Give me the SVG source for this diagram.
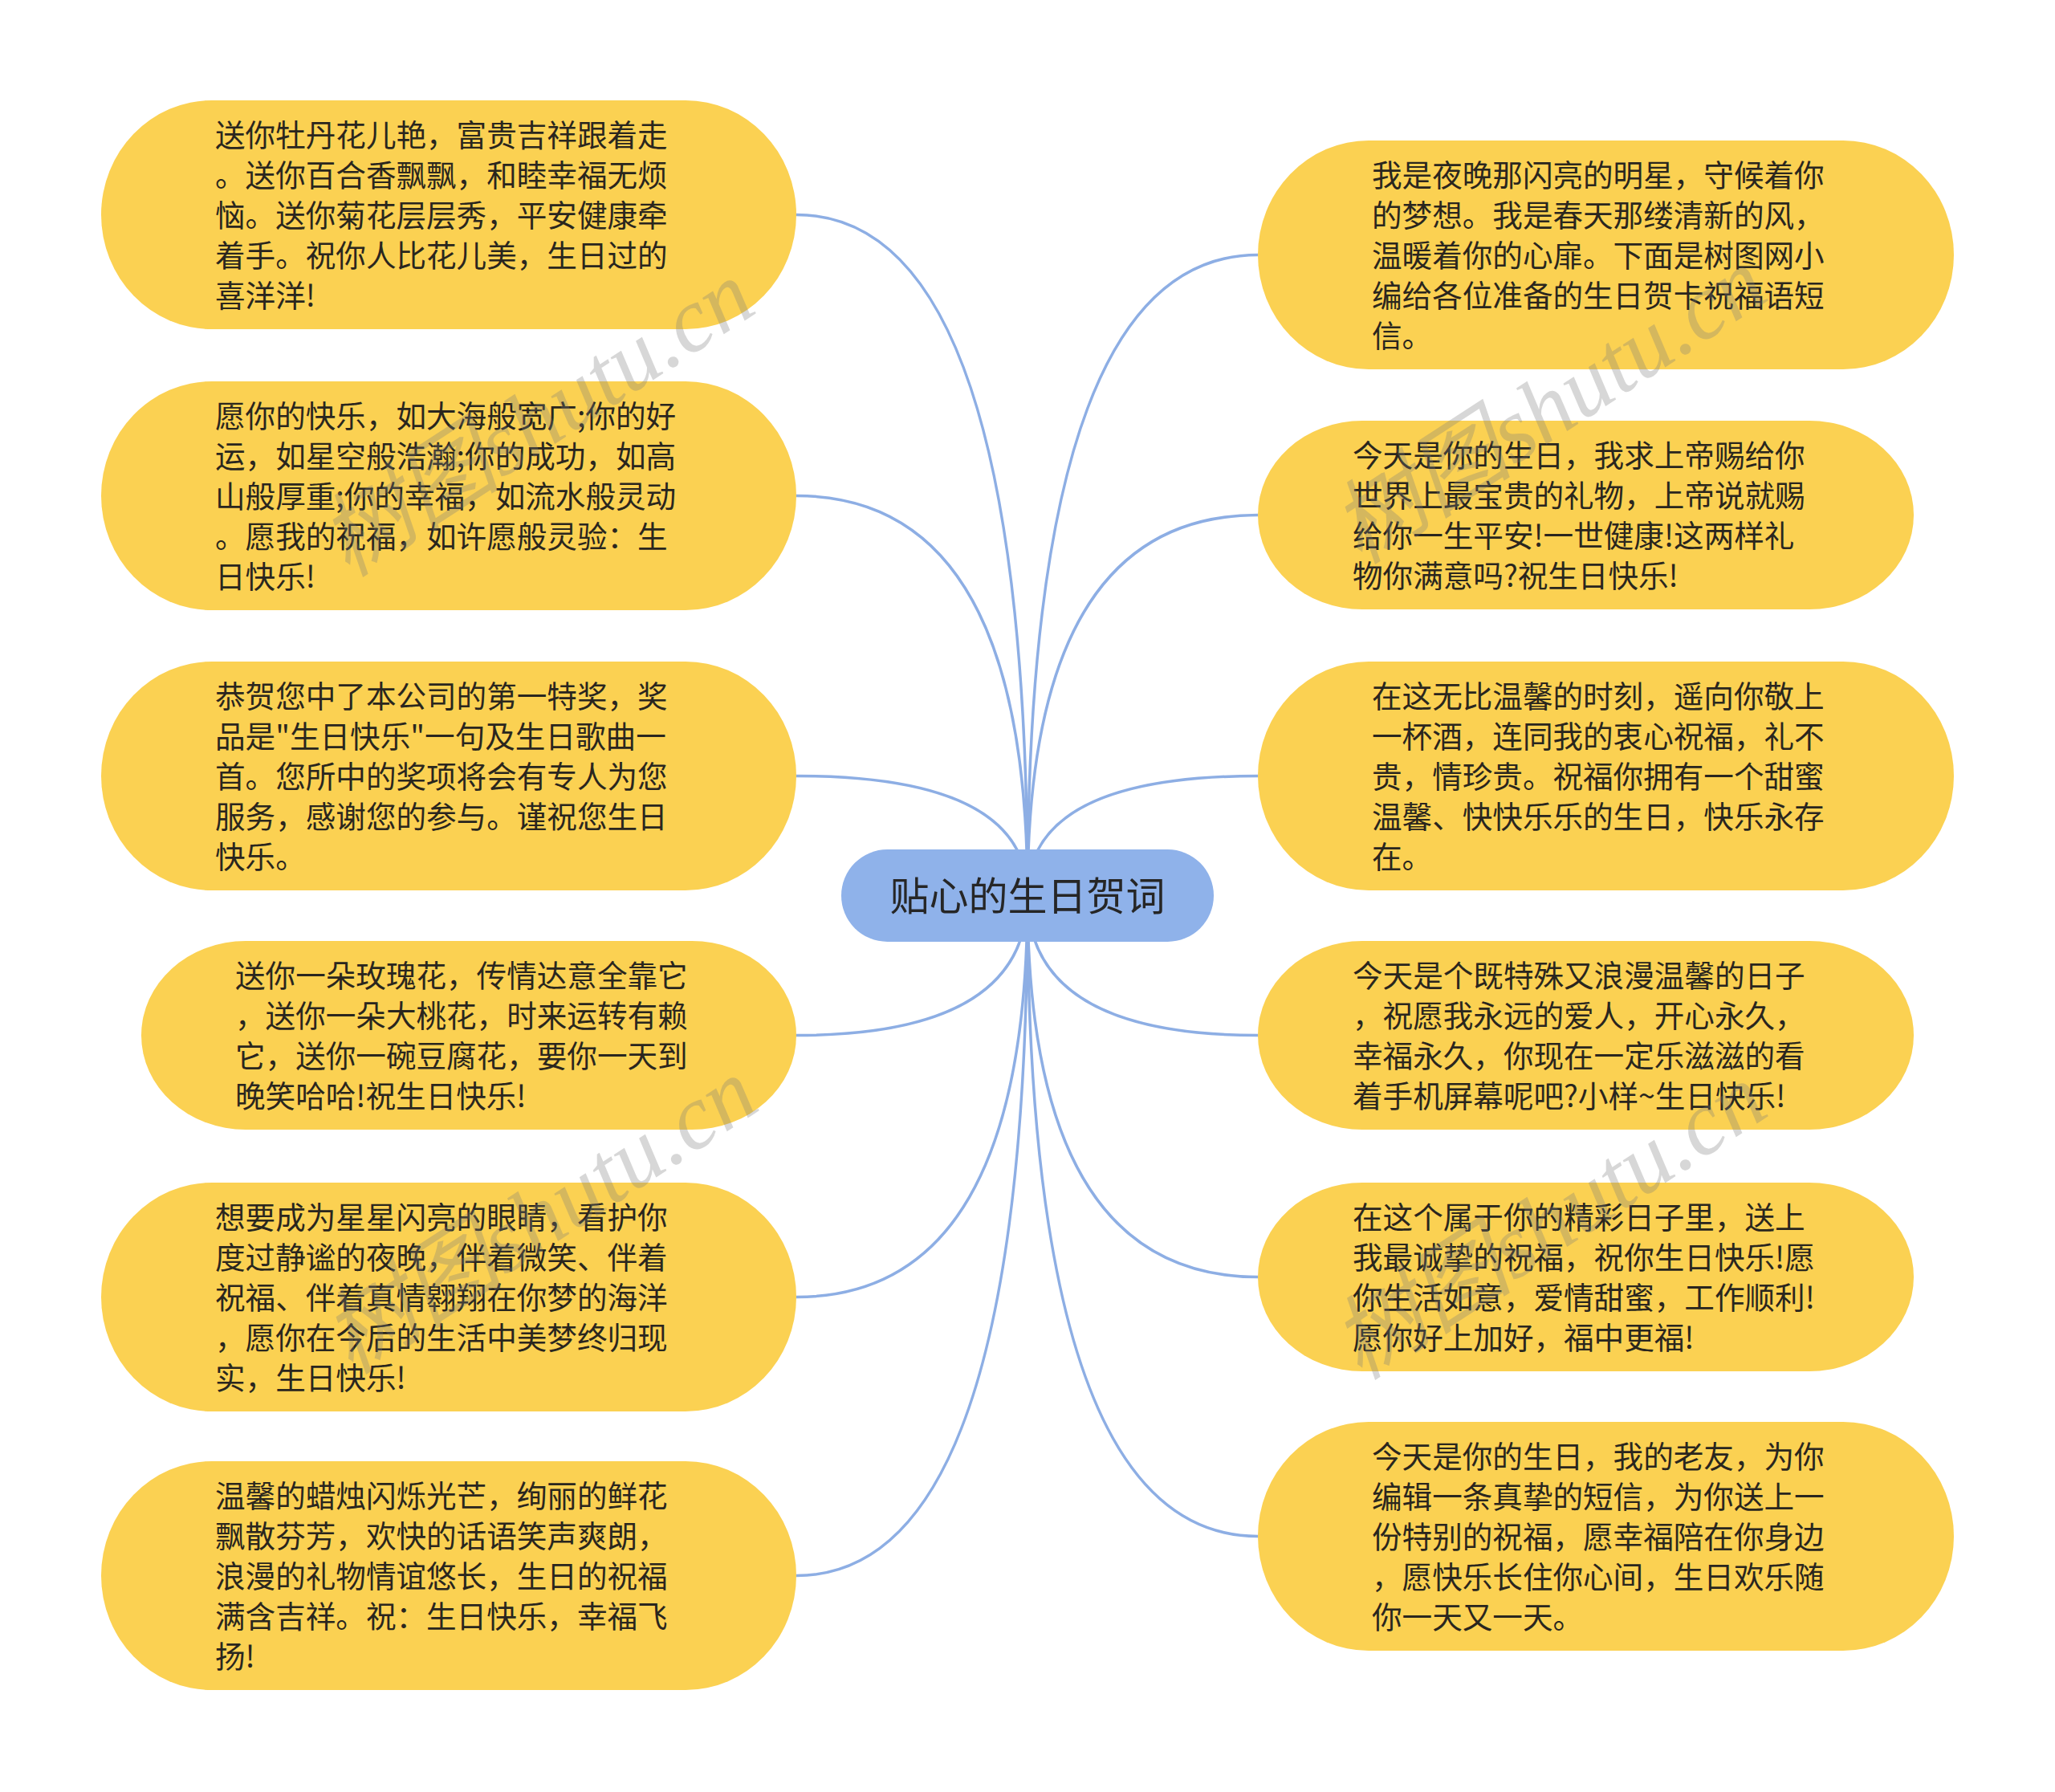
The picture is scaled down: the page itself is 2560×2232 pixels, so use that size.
<svg xmlns="http://www.w3.org/2000/svg" width="2560" height="2232" viewBox="0 0 2560 2232">
<style>
.n{fill:#FBD152;}
.t{font-family:"Noto Sans CJK SC","Liberation Sans",sans-serif;font-size:37.6px;fill:#2A261E;}
.c{fill:#8FB2EA;}
.ct{font-family:"Noto Sans CJK SC","Liberation Sans",sans-serif;font-size:49px;fill:#262626;text-anchor:middle;}
.e{fill:none;stroke:#8DAEE4;stroke-width:3.5;}
.w{font-family:"Liberation Serif","Noto Sans CJK SC",serif;font-style:italic;font-size:114px;fill:#7a7a7a;fill-opacity:0.3;text-anchor:middle;}
</style>
<rect width="2560" height="2232" fill="#FFFFFF"/>
<g id="connectors">
<path class="e" d="M1280,1115 Q1280,267.5 992,267.5"/>
<path class="e" d="M1280,1115 Q1280,617.5 992,617.5"/>
<path class="e" d="M1280,1115 Q1280,966.5 992,966.5"/>
<path class="e" d="M1280,1115 Q1280,1289.5 992,1289.5"/>
<path class="e" d="M1280,1115 Q1280,1615.5 992,1615.5"/>
<path class="e" d="M1280,1115 Q1280,1962.5 992,1962.5"/>
<path class="e" d="M1280,1115 Q1280,317.5 1567,317.5"/>
<path class="e" d="M1280,1115 Q1280,641.5 1567,641.5"/>
<path class="e" d="M1280,1115 Q1280,966.5 1567,966.5"/>
<path class="e" d="M1280,1115 Q1280,1289.5 1567,1289.5"/>
<path class="e" d="M1280,1115 Q1280,1590.5 1567,1590.5"/>
<path class="e" d="M1280,1115 Q1280,1913.5 1567,1913.5"/>
</g>
<g id="center">
<rect class="c" x="1048" y="1058" width="464" height="115" rx="57.5"/>
<text class="ct" x="1280" y="1134">贴心的生日贺词</text>
</g>
<g id="L1">
<rect class="n" x="126" y="125" width="866" height="285" rx="138" ry="142.5"/>
<text class="t"><tspan x="268" y="181.5">送你牡丹花儿艳，富贵吉祥跟着走</tspan><tspan x="268" y="231.5">。送你百合香飘飘，和睦幸福无烦</tspan><tspan x="268" y="281.5">恼。送你菊花层层秀，平安健康牵</tspan><tspan x="268" y="331.5">着手。祝你人比花儿美，生日过的</tspan><tspan x="268" y="381.5">喜洋洋!</tspan></text>
</g>
<g id="L2">
<rect class="n" x="126" y="475" width="866" height="285" rx="138" ry="142.5"/>
<text class="t"><tspan x="268" y="531.5">愿你的快乐，如大海般宽广;你的好</tspan><tspan x="268" y="581.5">运，如星空般浩瀚;你的成功，如高</tspan><tspan x="268" y="631.5">山般厚重;你的幸福，如流水般灵动</tspan><tspan x="268" y="681.5">。愿我的祝福，如许愿般灵验：生</tspan><tspan x="268" y="731.5">日快乐!</tspan></text>
</g>
<g id="L3">
<rect class="n" x="126" y="824" width="866" height="285" rx="138" ry="142.5"/>
<text class="t"><tspan x="268" y="880.5">恭贺您中了本公司的第一特奖，奖</tspan><tspan x="268" y="930.5">品是"生日快乐"一句及生日歌曲一</tspan><tspan x="268" y="980.5">首。您所中的奖项将会有专人为您</tspan><tspan x="268" y="1030.5">服务，感谢您的参与。谨祝您生日</tspan><tspan x="268" y="1080.5">快乐。</tspan></text>
</g>
<g id="L4">
<rect class="n" x="176" y="1172" width="816" height="235" rx="130" ry="117.5"/>
<text class="t"><tspan x="293" y="1228.5">送你一朵玫瑰花，传情达意全靠它</tspan><tspan x="293" y="1278.5">，送你一朵大桃花，时来运转有赖</tspan><tspan x="293" y="1328.5">它，送你一碗豆腐花，要你一天到</tspan><tspan x="293" y="1378.5">晚笑哈哈!祝生日快乐!</tspan></text>
</g>
<g id="L5">
<rect class="n" x="126" y="1473" width="866" height="285" rx="138" ry="142.5"/>
<text class="t"><tspan x="268" y="1529.5">想要成为星星闪亮的眼睛，看护你</tspan><tspan x="268" y="1579.5">度过静谧的夜晚，伴着微笑、伴着</tspan><tspan x="268" y="1629.5">祝福、伴着真情翱翔在你梦的海洋</tspan><tspan x="268" y="1679.5">，愿你在今后的生活中美梦终归现</tspan><tspan x="268" y="1729.5">实，生日快乐!</tspan></text>
</g>
<g id="L6">
<rect class="n" x="126" y="1820" width="866" height="285" rx="138" ry="142.5"/>
<text class="t"><tspan x="268" y="1876.5">温馨的蜡烛闪烁光芒，绚丽的鲜花</tspan><tspan x="268" y="1926.5">飘散芬芳，欢快的话语笑声爽朗，</tspan><tspan x="268" y="1976.5">浪漫的礼物情谊悠长，生日的祝福</tspan><tspan x="268" y="2026.5">满含吉祥。祝：生日快乐，幸福飞</tspan><tspan x="268" y="2076.5">扬!</tspan></text>
</g>
<g id="R1">
<rect class="n" x="1567" y="175" width="867" height="285" rx="138" ry="142.5"/>
<text class="t"><tspan x="1709" y="231.5">我是夜晚那闪亮的明星，守候着你</tspan><tspan x="1709" y="281.5">的梦想。我是春天那缕清新的风，</tspan><tspan x="1709" y="331.5">温暖着你的心扉。下面是树图网小</tspan><tspan x="1709" y="381.5">编给各位准备的生日贺卡祝福语短</tspan><tspan x="1709" y="431.5">信。</tspan></text>
</g>
<g id="R2">
<rect class="n" x="1567" y="524" width="817" height="235" rx="130" ry="117.5"/>
<text class="t"><tspan x="1685" y="580.5">今天是你的生日，我求上帝赐给你</tspan><tspan x="1685" y="630.5">世界上最宝贵的礼物，上帝说就赐</tspan><tspan x="1685" y="680.5">给你一生平安!一世健康!这两样礼</tspan><tspan x="1685" y="730.5">物你满意吗?祝生日快乐!</tspan></text>
</g>
<g id="R3">
<rect class="n" x="1567" y="824" width="867" height="285" rx="138" ry="142.5"/>
<text class="t"><tspan x="1709" y="880.5">在这无比温馨的时刻，遥向你敬上</tspan><tspan x="1709" y="930.5">一杯酒，连同我的衷心祝福，礼不</tspan><tspan x="1709" y="980.5">贵，情珍贵。祝福你拥有一个甜蜜</tspan><tspan x="1709" y="1030.5">温馨、快快乐乐的生日，快乐永存</tspan><tspan x="1709" y="1080.5">在。</tspan></text>
</g>
<g id="R4">
<rect class="n" x="1567" y="1172" width="817" height="235" rx="130" ry="117.5"/>
<text class="t"><tspan x="1685" y="1228.5">今天是个既特殊又浪漫温馨的日子</tspan><tspan x="1685" y="1278.5">，祝愿我永远的爱人，开心永久，</tspan><tspan x="1685" y="1328.5">幸福永久，你现在一定乐滋滋的看</tspan><tspan x="1685" y="1378.5">着手机屏幕呢吧?小样~生日快乐!</tspan></text>
</g>
<g id="R5">
<rect class="n" x="1567" y="1473" width="817" height="235" rx="130" ry="117.5"/>
<text class="t"><tspan x="1685" y="1529.5">在这个属于你的精彩日子里，送上</tspan><tspan x="1685" y="1579.5">我最诚挚的祝福，祝你生日快乐!愿</tspan><tspan x="1685" y="1629.5">你生活如意，爱情甜蜜，工作顺利!</tspan><tspan x="1685" y="1679.5">愿你好上加好，福中更福!</tspan></text>
</g>
<g id="R6">
<rect class="n" x="1567" y="1771" width="867" height="285" rx="138" ry="142.5"/>
<text class="t"><tspan x="1709" y="1827.5">今天是你的生日，我的老友，为你</tspan><tspan x="1709" y="1877.5">编辑一条真挚的短信，为你送上一</tspan><tspan x="1709" y="1927.5">份特别的祝福，愿幸福陪在你身边</tspan><tspan x="1709" y="1977.5">，愿快乐长住你心间，生日欢乐随</tspan><tspan x="1709" y="2027.5">你一天又一天。</tspan></text>
</g>
<g id="watermark">
<text class="w" x="669" y="560" transform="rotate(-33 669 522)">树图shutu.cn</text>
<text class="w" x="1930" y="544" transform="rotate(-33 1930 506)">树图shutu.cn</text>
<text class="w" x="673" y="1553" transform="rotate(-33 673 1515)">树图shutu.cn</text>
<text class="w" x="1930" y="1560" transform="rotate(-33 1930 1522)">树图shutu.cn</text>
</g>
</svg>
